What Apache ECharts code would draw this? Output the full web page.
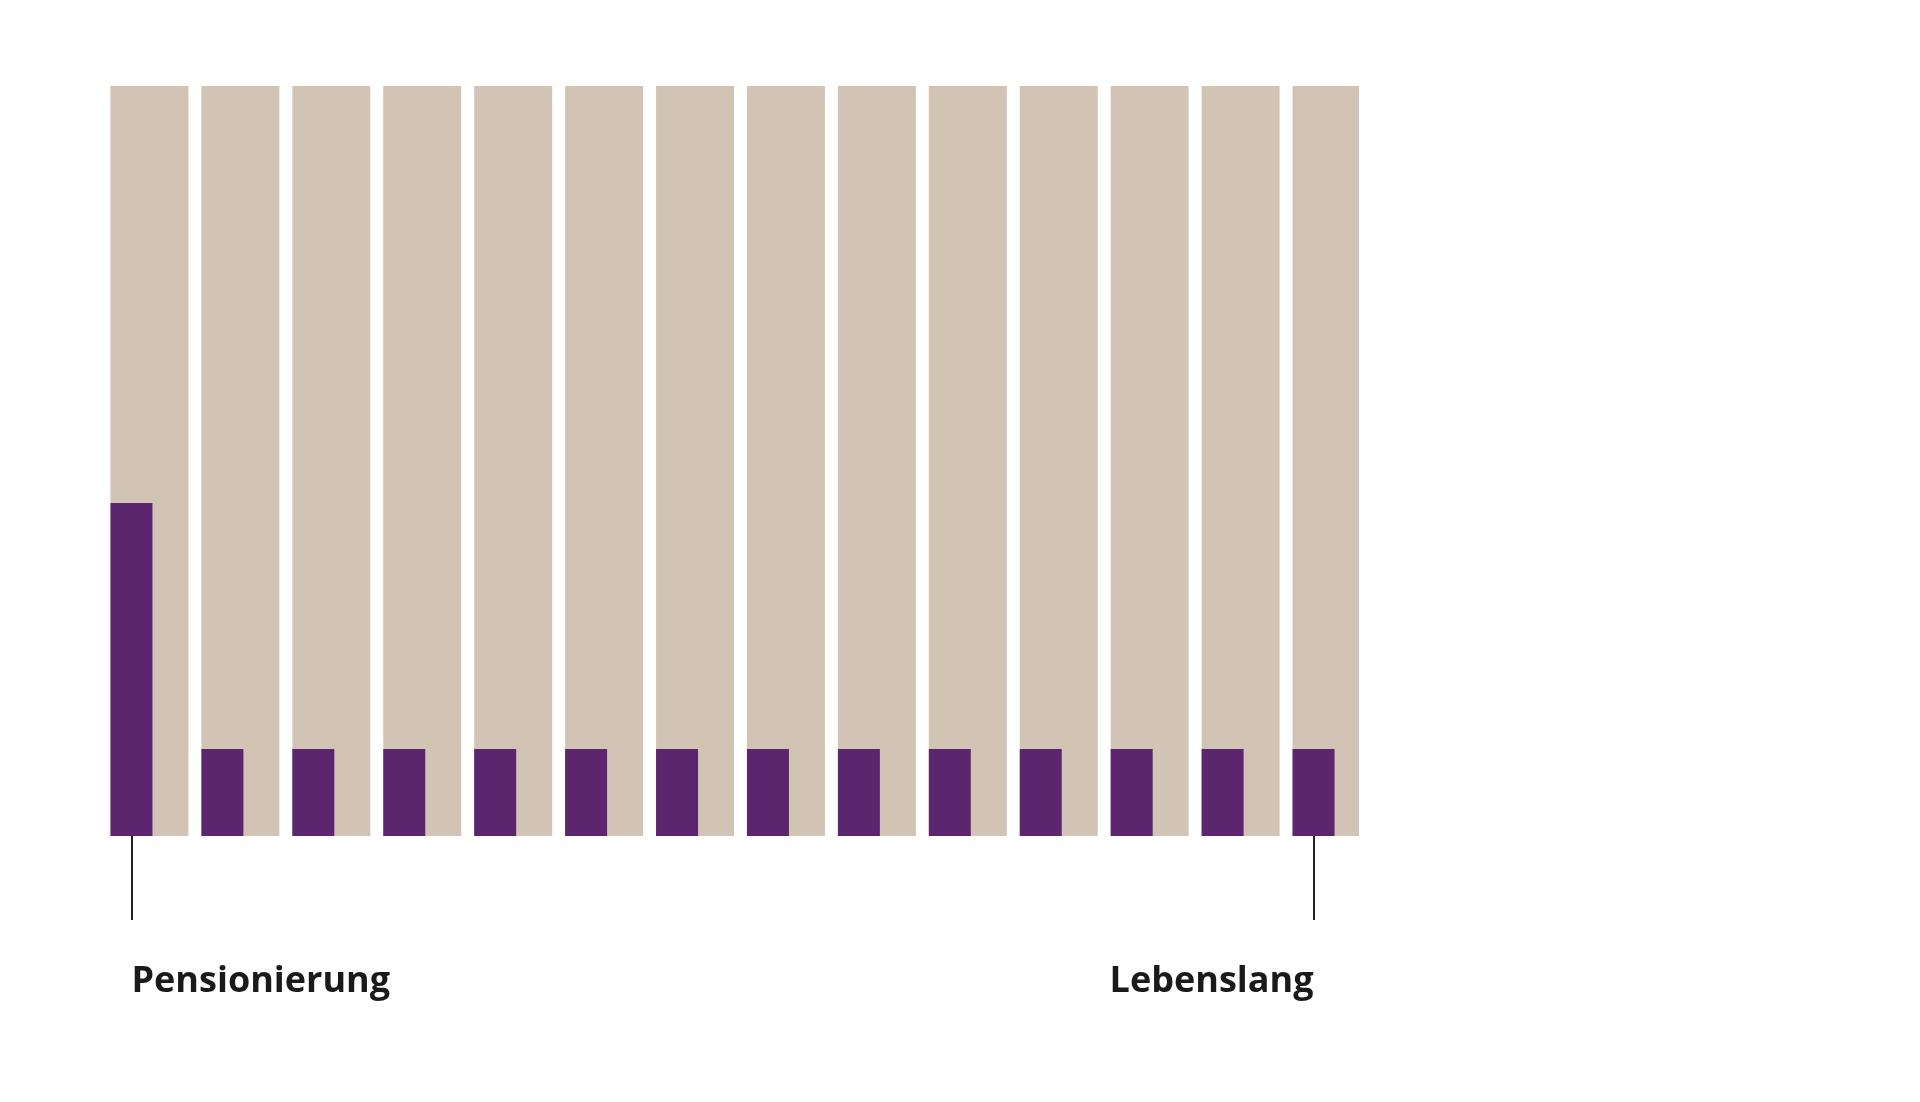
<!DOCTYPE html>
<html><head><meta charset="utf-8">
<script src="https://cdn.jsdelivr.net/npm/echarts@6/dist/echarts.min.js"></script>
<style>html,body{margin:0;background:#fff}#c{width:1920px;height:1102px}</style></head>
<body><div id="c"></div>
<script>
const categories = ['Pensionierung','','','','','','','','','','','','','Lebenslang'];
const backgroundValues = [100,100,100,100,100,100,100,100,100,100,100,100,100,100];
const payoutValues = [44.4,11.6,11.6,11.6,11.6,11.6,11.6,11.6,11.6,11.6,11.6,11.6,11.6,11.6];
const last = categories.length - 1;
const chart = echarts.init(document.getElementById('c'));
chart.setOption({
  animation:false,
  grid:{left:86,top:86,width:1273,height:750},
  xAxis:{type:'category',
    data:categories.map((c,i)=>({value:c,textStyle:{align:i===0?'left':(i===last?'right':'center')}})),
    axisLine:{show:false},
    axisTick:{show:true,alignWithLabel:true,length:84,interval:(i)=>i===0||i===last,lineStyle:{color:'#222',width:2}},
    axisLabel:{interval:0,margin:128,verticalAlign:'top',fontFamily:'Open Sans',fontWeight:'bold',fontSize:36,color:'#1a1a1a',
      padding:[0,0,0,0]}
  },
  yAxis:{type:'value',min:0,max:100,show:false},
  series:[
    {type:'bar',data:backgroundValues,barWidth:78,itemStyle:{color:'#d2c4b4'},z:1},
    {type:'bar',data:payoutValues,barWidth:42,barGap:'-100%',itemStyle:{color:'#5c266e'},z:2}
  ]
});
</script></body></html>
